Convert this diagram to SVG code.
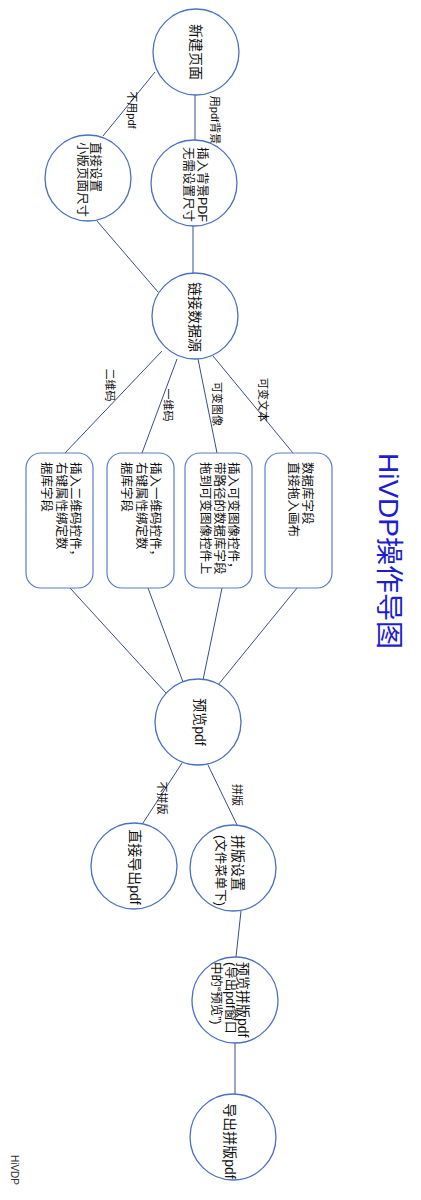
<svg xmlns="http://www.w3.org/2000/svg" width="421" height="1200" viewBox="0 0 421 1200">
<style>
.c{fill:#fff;stroke:#4a70c0;stroke-width:1.3}
.r{fill:#fff;stroke:#5a7cc6;stroke-width:1.2}
.e{stroke:#34508a;stroke-width:1;fill:none}
text{font-family:"Liberation Sans","Noto Sans CJK SC",sans-serif;fill:#111;dominant-baseline:central}
.n{font-size:14px;text-anchor:middle}
.m{font-size:12.5px;text-anchor:start}
.l{font-size:11px;text-anchor:middle}
.t{font-size:28px;text-anchor:middle;fill:#1e1ed0}
.s{font-size:10px;text-anchor:middle;fill:#333}
</style>
<rect width="421" height="1200" fill="#fff"/>
<g id="connectors">
<line class="e" x1="155" y1="72" x2="103" y2="136"/>
<line class="e" x1="195" y1="95" x2="195" y2="140"/>
<line class="e" x1="97" y1="221" x2="158" y2="292"/>
<line class="e" x1="193" y1="226" x2="193" y2="273"/>
<line class="e" x1="162" y1="351" x2="65" y2="453"/>
<line class="e" x1="177" y1="359" x2="142" y2="453"/>
<line class="e" x1="198" y1="359" x2="217" y2="453"/>
<line class="e" x1="213" y1="356" x2="293" y2="453"/>
<line class="e" x1="70" y1="588" x2="166" y2="693"/>
<line class="e" x1="148" y1="588" x2="183" y2="682"/>
<line class="e" x1="222" y1="588" x2="203" y2="680"/>
<line class="e" x1="297" y1="588" x2="218" y2="685"/>
<line class="e" x1="182" y1="763" x2="143" y2="823"/>
<line class="e" x1="208" y1="765" x2="238" y2="827"/>
<line class="e" x1="241" y1="911" x2="236" y2="957"/>
<line class="e" x1="235" y1="1043" x2="235" y2="1094"/>
<text class="l" transform="translate(132,110) rotate(90)">不用pdf</text>
<text class="l" transform="translate(215,120) rotate(90)">用pdf背景</text>
<text class="l" transform="translate(110,385) rotate(90)">二维码</text>
<text class="l" transform="translate(168,405) rotate(90)">一维码</text>
<text class="l" transform="translate(217,404) rotate(90)">可变图像</text>
<text class="l" transform="translate(263,400) rotate(90)">可变文本</text>
<text class="l" transform="translate(162,798) rotate(90)">不拼版</text>
<text class="l" transform="translate(237,795) rotate(90)">拼版</text>
</g>
<g id="n-new">
<circle class="c" cx="196" cy="52" r="43"/>
<text class="n" transform="translate(196,52) rotate(90)">新建页面</text>
</g>
<g id="n-direct-size">
<circle class="c" cx="88" cy="178" r="43"/>
<text class="m" transform="translate(95,142) rotate(90)"><tspan x="0" y="0">直接设置</tspan><tspan x="0" y="13">小版页面尺寸</tspan></text>
</g>
<g id="n-bgpdf">
<circle class="c" cx="194" cy="183" r="43"/>
<text class="m" transform="translate(202,147) rotate(90)"><tspan x="0" y="0">插入背景PDF</tspan><tspan x="0" y="14">无需设置尺寸</tspan></text>
</g>
<g id="n-link">
<circle class="c" cx="195" cy="316" r="43"/>
<text class="n" transform="translate(195,317) rotate(90)">链接数据源</text>
</g>
<g id="n-qr">
<rect class="r" x="26" y="453" width="67" height="135" rx="15"/>
<text class="m" transform="translate(75,462) rotate(90)"><tspan x="0" y="0">插入二维码控件，</tspan><tspan x="0" y="14.5">右键属性绑定数</tspan><tspan x="0" y="29">据库字段</tspan></text>
</g>
<g id="n-bar">
<rect class="r" x="107" y="453" width="67" height="135" rx="15"/>
<text class="m" transform="translate(155,462) rotate(90)"><tspan x="0" y="0">插入一维码控件，</tspan><tspan x="0" y="14.5">右键属性绑定数</tspan><tspan x="0" y="29">据库字段</tspan></text>
</g>
<g id="n-img">
<rect class="r" x="185" y="453" width="67" height="135" rx="15"/>
<text class="m" transform="translate(233,462) rotate(90)"><tspan x="0" y="0">插入可变图像控件，</tspan><tspan x="0" y="14">带路径的数据库字段</tspan><tspan x="0" y="28">拖到可变图像控件上</tspan></text>
</g>
<g id="n-text">
<rect class="r" x="265" y="453" width="67" height="135" rx="15"/>
<text class="m" transform="translate(307,462) rotate(90)"><tspan x="0" y="0">数据库字段</tspan><tspan x="0" y="14">直接拖入画布</tspan></text>
</g>
<g id="n-preview">
<circle class="c" cx="198" cy="722" r="43"/>
<text class="n" transform="translate(200,722) rotate(90)">预览pdf</text>
</g>
<g id="n-export">
<circle class="c" cx="134" cy="866" r="43"/>
<text class="n" transform="translate(135,867) rotate(90)">直接导出pdf</text>
</g>
<g id="n-impose">
<circle class="c" cx="233" cy="868" r="43"/>
<text class="m" transform="translate(238,835) rotate(90)"><tspan x="0" y="0" style="font-size:14px">拼版设置</tspan><tspan x="0" y="18">(文件菜单下)</tspan></text>
</g>
<g id="n-preview-impose">
<circle class="c" cx="235" cy="1000" r="43"/>
<text class="m" transform="translate(243,962) rotate(90)"><tspan x="0" y="0" style="font-size:14px">预览拼版pdf</tspan><tspan x="0" y="13.5">(导出pdf窗口</tspan><tspan x="0" y="27">中的“预览”)</tspan></text>
</g>
<g id="n-export-impose">
<circle class="c" cx="233" cy="1137" r="43"/>
<text class="n" transform="translate(230,1141) rotate(90)">导出拼版pdf</text>
</g>
<g id="title">
<text class="t" transform="translate(388,551) rotate(90)">HiVDP操作导图</text>
<text class="s" transform="translate(14,1170) rotate(90)">HiVDP</text>
</g>
</svg>
